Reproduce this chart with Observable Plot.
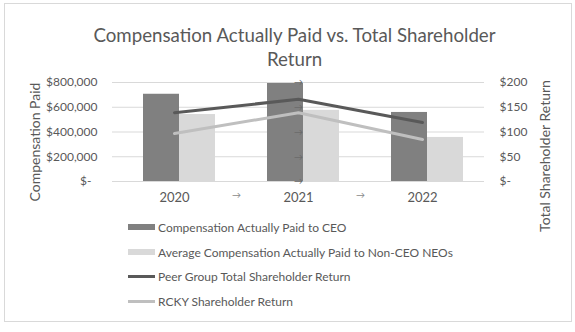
<!DOCTYPE html>
<html>
<head>
<meta charset="utf-8">
<script src="https://cdn.jsdelivr.net/npm/d3@7"></script>
<script src="https://cdn.jsdelivr.net/npm/@observablehq/plot@0.6"></script>
<style>
  body { margin: 0; background: #fff; font-family: Lato, "Open Sans", sans-serif; }
  #wrap { position: relative; width: 575px; height: 332px; overflow: hidden; background: #fff; }
  #frame { position: absolute; left: 4px; top: 3px; width: 566px; height: 317px; border: 1px solid #d9d9d9; }
  #title { position: absolute; left: 7px; top: 23px; width: 575px; text-align: center;
           font-size: 18.7px; line-height: 24px; color: #595959; }
  #chart { position: absolute; left: 0; top: 62px; }
  .ytitle { position: absolute; width: 200px; height: 18px; line-height: 18px; margin-left: -100px; margin-top: -9px;
            text-align: center; font-size: 14px; color: #595959; transform: rotate(-90deg); white-space: nowrap; }
  #legend { position: absolute; left: 128px; top: 215px; font-size: 12px; color: #595959; }
  .item { display: flex; align-items: center; height: 24.7px; white-space: nowrap; }
  .sw { width: 27px; margin-right: 3px; flex: none; }
</style>
</head>
<body>
<div id="wrap">
  <div id="frame"></div>
  <div id="title">Compensation Actually Paid vs. Total Shareholder<br>Return</div>
  <div id="chart"></div>
  <div class="ytitle" style="left:35px; top:142px;">Compensation Paid</div>
  <div class="ytitle" style="left:545px; top:156px;">Total Shareholder Return</div>
  <div id="legend"></div>
</div>
<script>
// Fiscal years on the category axis
const years = ["2020", "2021", "2022"];
// Compensation actually paid (left axis, dollars)
const ceoPaid = [705000, 792000, 558000];
const neoPaid = [541000, 575000, 356000];
// Value of a $100 investment (right axis, dollars)
const peerTsr = [139, 166, 119];
const rckyTsr = [97, 139, 85];
// Tick values for both axes
const compTicks = [0, 200000, 400000, 600000, 800000];
const tsrTicks = [0, 50, 100, 150, 200];

const seriesNames = [
  "Compensation Actually Paid to CEO",
  "Average Compensation Actually Paid to Non-CEO NEOs",
  "Peer Group Total Shareholder Return",
  "RCKY Shareholder Return"
];
const colors = ["#808080", "#d9d9d9", "#595959", "#bfbfbf"];

// Right axis shares the left scale: $200 lines up with $800,000
const k = compTicks[compTicks.length - 1] / tsrTicks[tsrTicks.length - 1];

const rows = years.map((year, i) => ({
  year, ceo: ceoPaid[i], neo: neoPaid[i], peer: peerTsr[i], rcky: rckyTsr[i]
}));

const money = d3.format(",");

const chart = Plot.plot({
  width: 575,
  height: 150,
  marginTop: 20,
  marginBottom: 31,
  marginLeft: 112,
  marginRight: 91,
  style: { fontFamily: "Lato, 'Open Sans', sans-serif", fontSize: "12px", color: "#595959", background: "transparent", overflow: "visible" },
  x: { domain: years, padding: 0, axis: null },
  y: { domain: [0, 800000], axis: null },
  marks: [
    Plot.ruleY(compTicks, { stroke: "#d9d9d9", strokeWidth: 1 }),
    Plot.barY(rows, { x: "year", y: "ceo", fill: colors[0], insetLeft: 31, insetRight: 57 }),
    Plot.barY(rows, { x: "year", y: "neo", fill: colors[1], insetLeft: 67, insetRight: 21 }),
    Plot.lineY(rows, { x: "year", y: d => d.peer * k, stroke: colors[2], strokeWidth: 3, strokeLinecap: "round" }),
    Plot.lineY(rows, { x: "year", y: d => d.rcky * k, stroke: colors[3], strokeWidth: 3, strokeLinecap: "round" }),
    Plot.axisY(compTicks, {
      anchor: "left", tickSize: 0, tickPadding: 15, fill: "#595959", label: null,
      tickFormat: d => d === 0 ? "$-\u00a0\u00a0" : "$" + money(d)
    }),
    Plot.axisY(tsrTicks.map(t => t * k), {
      anchor: "right", tickSize: 0, tickPadding: 15, fill: "#595959", label: null,
      tickFormat: d => d === 0 ? "$-" : "$" + d / k
    }),
    Plot.axisX(years, { tickSize: 0, tickPadding: 11, fill: "#595959", fontSize: 13, label: null }),
    // stray arrow glyphs along the 2021 category and between year labels
    Plot.text(compTicks, {
      x: () => "2021", y: d => d, text: () => "\u2192",
      fill: "#6a6a6a", fontSize: 9
    }),
    Plot.text(years.slice(0, 2), {
      x: d => d, frameAnchor: "bottom", dx: 62, dy: 16, text: () => "\u2192",
      fill: "#8a8a8a", fontSize: 9
    })
  ]
});
document.getElementById("chart").appendChild(chart);

// Legend below the chart
const legend = document.getElementById("legend");
seriesNames.forEach((name, i) => {
  const item = document.createElement("div");
  item.className = "item";
  const sw = document.createElement("span");
  sw.className = "sw";
  sw.style.background = colors[i];
  sw.style.height = i < 2 ? "6px" : "3px";
  const label = document.createElement("span");
  label.textContent = name;
  item.appendChild(sw);
  item.appendChild(label);
  legend.appendChild(item);
});
</script>
</body>
</html>
